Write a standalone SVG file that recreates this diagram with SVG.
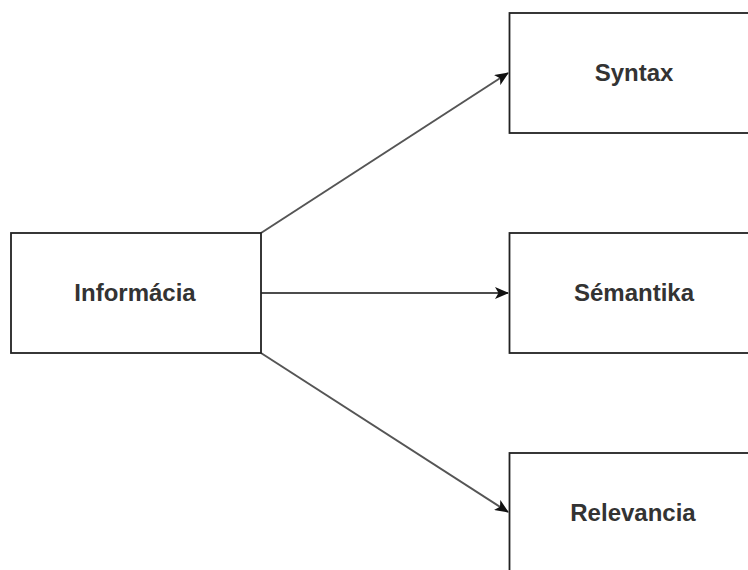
<svg xmlns="http://www.w3.org/2000/svg" width="748" height="570" viewBox="0 0 748 570">
<defs>
<marker id="arr" viewBox="0 0 14 12" refX="13" refY="6" markerWidth="14" markerHeight="12" orient="auto" markerUnits="userSpaceOnUse">
<path d="M0,0 L14,6 L0,12 L3.5,6 Z" fill="#111"/>
</marker>
<style>
.box{fill:#fff;stroke:#222;stroke-width:1.8}
.lbl{font-family:"Liberation Sans",Arial,sans-serif;font-size:24px;font-weight:bold;fill:#333;text-anchor:middle;dominant-baseline:central}
.edge{fill:none;stroke:#555;stroke-width:2}
.edge.h{stroke:#111;stroke-width:1.6}
</style>
</defs>
<rect width="748" height="570" fill="#fff"/>
<g id="connectors">
<path class="edge" d="M261,233 L508,73" marker-end="url(#arr)"/>
<path class="edge h" d="M261,293 L508,293" marker-end="url(#arr)"/>
<path class="edge" d="M261,353 L508,512" marker-end="url(#arr)"/>
</g>
<g id="informacia"><rect class="box" x="11" y="233" width="250" height="120"/><text class="lbl" x="135" y="292">Informácia</text></g>
<g id="syntax"><rect class="box" x="509.5" y="13" width="250" height="120"/><text class="lbl" x="634" y="72">Syntax</text></g>
<g id="semantika"><rect class="box" x="509.5" y="233" width="250" height="120"/><text class="lbl" x="634" y="292">Sémantika</text></g>
<g id="relevancia"><rect class="box" x="509.5" y="453" width="250" height="120"/><text class="lbl" x="633" y="512">Relevancia</text></g>
</svg>
